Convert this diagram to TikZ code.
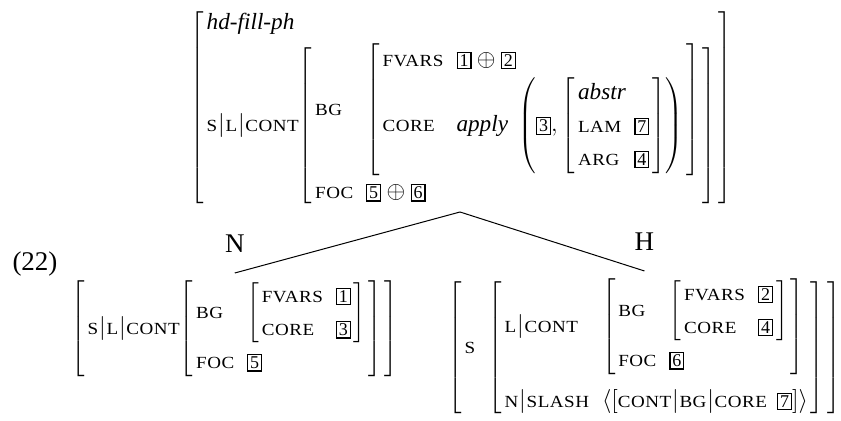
\documentclass[tikz,border=0pt]{standalone}
\usepackage{fontspec}
\setmainfont{Liberation Serif}
\usepackage{array}
\usetikzlibrary{positioning}

\newcommand{\attr}[1]{\mbox{\fontsize{8.5}{9}\selectfont\addfontfeatures{FakeStretch=1.12,LetterSpace=3}#1}}
\newcommand{\pipe}{\mbox{\hspace{0.4pt}$|$\hspace{0.4pt}}}
\newcommand{\tagn}[1]{\mbox{\setlength\fboxsep{0.9pt}\setlength\fboxrule{0.6pt}\fbox{\fontsize{9}{9}\selectfont #1}}}
\newcommand{\avmat}[2][6.5pt]{\left[\begin{array}{@{\hspace{1.5pt}}l@{\hspace{#1}}l@{\hspace{1.5pt}}}#2\end{array}\right]}
\newcommand{\avtype}[1]{\multicolumn{2}{@{\hspace{1.5pt}}l@{\hspace{1.5pt}}}{#1}}
\renewcommand{\arraystretch}{1.2}

\tikzstyle{avm} = [inner sep=0pt, font=\fontsize{11.6}{13.75}\selectfont]
\tikzstyle{lbl} = [inner sep=0pt, font=\fontsize{13.5}{16}\selectfont]
\tikzstyle{branch} = [line width=0.5pt]

\begin{document}
\begin{tikzpicture}[x=0.5pt,y=-0.5pt]
\useasboundingbox (0,0) rectangle (841,421);

\node[lbl] (exnum) at (35,264) {(22)};

\node[avm, anchor=north west] (top) at (190,6) {$\avmat[0pt]{
  \avtype{\textit{hd-fill-ph}}\\[2pt]
  \attr{S}\pipe\attr{L}\pipe\attr{CONT} & \avmat{
    \attr{BG} & \avmat{
      \attr{FVARS} & \tagn{1}\oplus\tagn{2}\\
      \attr{CORE} & \textit{apply}\;\left(\tagn{3},\avmat{
        \avtype{\textit{abstr}}\\
        \attr{LAM} & \tagn{7}\\
        \attr{ARG} & \tagn{4}}\right)}\\
    \attr{FOC} & \tagn{5}\oplus\tagn{6}}}$};

\node[avm, anchor=north west] (lft) at (71,279) {$\avmat[0pt]{
  \attr{S}\pipe\attr{L}\pipe\attr{CONT} & \avmat{
    \attr{BG} & \avmat{
      \attr{FVARS} & \tagn{1}\\
      \attr{CORE} & \tagn{3}}\\
    \attr{FOC} & \tagn{5}}}$};

\node[avm, anchor=north west] (rgt) at (448,277) {$\avmat{
  \attr{S}\hspace{4pt} & \avmat{
    \attr{L}\pipe\attr{CONT} & \avmat{
      \attr{BG} & \avmat{
        \attr{FVARS} & \tagn{2}\\
        \attr{CORE} & \tagn{4}}\\
      \attr{FOC} & \tagn{6}}\\ \noalign{\vskip 4pt}
    \attr{N}\pipe\attr{SLASH}\hspace{3pt} & \left\langle\left[\attr{CONT}\pipe\attr{BG}\pipe\attr{CORE}\hspace{5pt}\tagn{7}\right]\right\rangle}}$};

\node[lbl, above=13pt of lft.north] (nlab) {N};
\node[lbl, above=13pt of rgt.north] (hlab) {H};

\coordinate (apex) at (460,212);
\draw[branch] (apex) -- ([yshift=3pt]lft.north);
\draw[branch] (apex) -- ([yshift=3pt]rgt.north);

\end{tikzpicture}
\end{document}
